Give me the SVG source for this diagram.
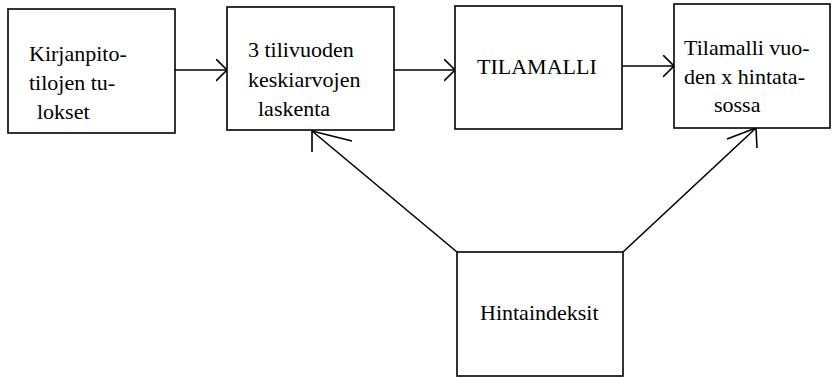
<svg xmlns="http://www.w3.org/2000/svg" width="832" height="377" viewBox="0 0 832 377">
<style>
.box{fill:#fff;stroke:#000;stroke-width:1.6}
.t{font-size:22px;fill:#000}
.c{fill:none;stroke:#000;stroke-width:1.6}
</style>
<defs>
<marker id="ah" markerUnits="userSpaceOnUse" markerWidth="14" markerHeight="24" refX="11" refY="11" orient="auto" viewBox="0 0 14 24">
<path d="M0,0 L11,11 L0,22" fill="none" stroke="#000" stroke-width="1.6"/>
</marker>
</defs>
<rect width="832" height="377" fill="#fff"/>
<g id="connectors">
<line class="c" x1="175" y1="70" x2="227" y2="70" marker-end="url(#ah)"/>
<line class="c" x1="394" y1="70" x2="455" y2="70" marker-end="url(#ah)"/>
<line class="c" x1="622" y1="66" x2="674" y2="66" marker-end="url(#ah)"/>
<path class="c" d="M457,252 L312,131"/>
<path class="c" d="M312,152 L312,131 L352,141"/>
<path class="c" d="M623,252 L756,128"/>
<path class="c" d="M727,139 L756,128 L757,148"/>
</g>
<g font-family="'Liberation Serif', 'Times New Roman', serif">
<g id="kirjanpito">
<rect class="box" x="8" y="9" width="167" height="124"/>
<text class="t" x="29" y="61">Kirjanpito-</text>
<text class="t" x="29" y="90">tilojen tu-</text>
<text class="t" x="37" y="119">lokset</text>
</g>
<g id="keskiarvot">
<rect class="box" x="227" y="7" width="167" height="123"/>
<text class="t" x="248" y="57">3 tilivuoden</text>
<text class="t" x="248" y="87">keskiarvojen</text>
<text class="t" x="258" y="116">laskenta</text>
</g>
<g id="tilamalli">
<rect class="box" x="455" y="6" width="167" height="123"/>
<text class="t" x="477" y="74">TILAMALLI</text>
</g>
<g id="tilamalli-vuoden">
<rect class="box" x="674" y="4" width="156" height="124"/>
<text class="t" x="684" y="55">Tilamalli vuo-</text>
<text class="t" x="684" y="84">den x hintata-</text>
<text class="t" x="714" y="112">sossa</text>
</g>
<g id="hintaindeksit">
<rect class="box" x="457" y="252" width="166" height="124"/>
<text class="t" x="480" y="320">Hintaindeksit</text>
</g>
</g>
</svg>
